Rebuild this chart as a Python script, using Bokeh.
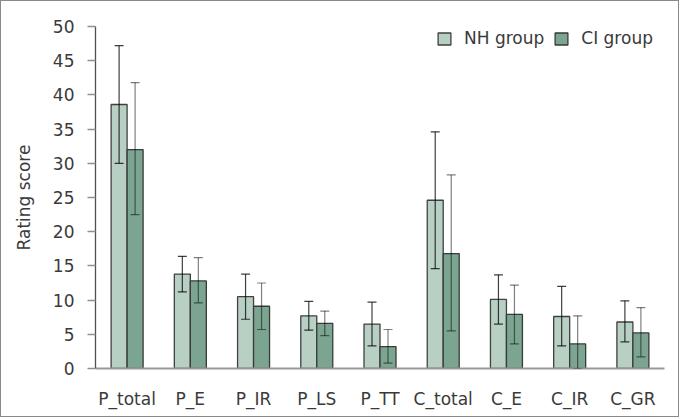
from bokeh.plotting import figure
from bokeh.models import ColumnDataSource, FactorRange, Whisker, TeeHead, Legend, LegendItem, FixedTicker
from bokeh.transform import dodge
from bokeh.embed import file_html
from bokeh.resources import INLINE

categories = ["P_total", "P_E", "P_IR", "P_LS", "P_TT", "C_total", "C_E", "C_IR", "C_GR"]
nh_mean = [38.6, 13.8, 10.5, 7.7, 6.5, 24.6, 10.1, 7.6, 6.8]
nh_upper = [47.2, 16.4, 13.8, 9.8, 9.7, 34.6, 13.7, 12.0, 9.9]
nh_lower = [30.0, 11.2, 7.2, 5.6, 3.3, 14.6, 6.5, 3.3, 3.9]
ci_mean = [32.0, 12.8, 9.1, 6.6, 3.2, 16.8, 7.9, 3.6, 5.2]
ci_upper = [41.8, 16.2, 12.5, 8.4, 5.7, 28.3, 12.2, 7.7, 8.9]
ci_lower = [22.5, 9.6, 5.7, 4.8, 0.8, 5.5, 3.6, 0.0, 1.7]
y_ticks = [0, 5, 10, 15, 20, 25, 30, 35, 40, 45, 50]

FONT = "DejaVu Sans"
TXT = "#3a3a3a"

src = ColumnDataSource(dict(cat=categories, nh=nh_mean, nhu=nh_upper, nhl=nh_lower,
                            ci=ci_mean, ciu=ci_upper, cil=ci_lower))

p = figure(x_range=FactorRange(*categories, range_padding=0), y_range=(0, 50),
           width=679, height=417, output_backend="svg", toolbar_location=None,
           min_border_left=94, min_border_right=16, min_border_top=25, min_border_bottom=50)
p.styles = {"border": "1px solid #8a8a8a"}
p.outline_line_color = None
p.xgrid.grid_line_color = None
p.ygrid.grid_line_color = None
p.background_fill_color = "white"

w = 0.253
off = 0.1265
r_nh = p.vbar(x=dodge("cat", -off, range=p.x_range), top="nh", width=w, source=src,
              fill_color="#b8cfc3", line_color="#404040", line_width=1.3)
r_ci = p.vbar(x=dodge("cat", off, range=p.x_range), top="ci", width=w, source=src,
              fill_color="#7ba591", line_color="#3a3a3a", line_width=1.3)

for base, up, lo, alpha in [(-off, "nhu", "nhl", 0.75), (off, "ciu", "cil", 0.5)]:
    wh = Whisker(base=dodge("cat", base, range=p.x_range), upper=up, lower=lo, source=src,
                 level="overlay",
                 line_color="black", line_alpha=alpha, line_width=1.2,
                 upper_head=TeeHead(size=9, line_color="black", line_alpha=alpha, line_width=1.2),
                 lower_head=TeeHead(size=9, line_color="black", line_alpha=alpha, line_width=1.2))
    p.add_layout(wh)

# y axis
ya = p.yaxis[0]
ya.ticker = FixedTicker(ticks=y_ticks)
ya.axis_line_color = "#505050"
ya.axis_line_width = 1.3
ya.major_tick_line_color = "#909090"
ya.major_tick_line_width = 1.3
ya.major_tick_out = 8
ya.major_tick_in = 0
ya.minor_tick_line_color = None
ya.major_label_text_font = FONT
ya.major_label_text_font_size = "17px"
ya.major_label_text_color = TXT
ya.major_label_standoff = 13
ya.axis_label = "Rating score"
ya.axis_label_text_font = FONT
ya.axis_label_text_font_size = "17px"
ya.axis_label_text_font_style = "normal"
ya.axis_label_text_color = TXT
ya.axis_label_standoff = 16

# x axis
xa = p.xaxis[0]
xa.axis_line_color = "#999999"
xa.axis_line_width = 2
xa.major_tick_line_color = None
xa.minor_tick_line_color = None
xa.major_label_text_font = FONT
xa.major_label_text_font_size = "17px"
xa.major_label_text_color = TXT
xa.major_label_standoff = 14

legend = Legend(items=[LegendItem(label="NH group", renderers=[r_nh]),
                       LegendItem(label="CI group", renderers=[r_ci])],
                location=(341, 320), orientation="horizontal",
                glyph_width=16, glyph_height=15, label_standoff=12, spacing=9,
                margin=0, padding=0, border_line_color=None, background_fill_alpha=0,
                label_text_font=FONT, label_text_font_size="17px", label_text_color=TXT)
p.add_layout(legend)

open("out.html", "w").write(file_html(p, INLINE))
